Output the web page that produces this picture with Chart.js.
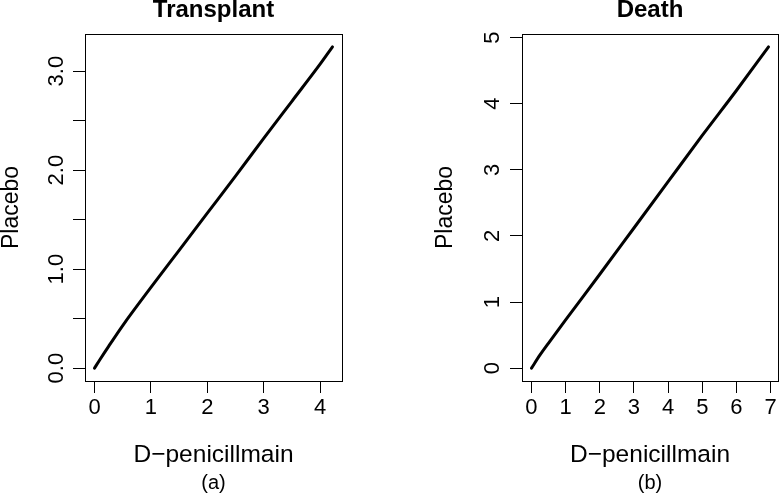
<!DOCTYPE html>
<html>
<head>
<meta charset="utf-8">
<script src="https://cdn.jsdelivr.net/npm/chart.js@4.4.0/dist/chart.umd.min.js"></script>
<style>
body { margin: 0; background: #fff; }
#wrap { position: relative; width: 779px; height: 493px; }
canvas { position: absolute; top: 0; }
#cvA { left: 0; }
#cvB { left: 389px; }
</style>
</head>
<body>
<div id="wrap">
	<canvas id="cvA" width="389" height="493"></canvas>
	<canvas id="cvB" width="390" height="493"></canvas>
</div>
<script>
// (a) Transplant: D-penicillmain vs Placebo
const transX = [0, 0.1, 0.25, 0.5, 1, 1.5, 2, 2.5, 3, 3.5, 4, 4.22];
const transY = [0, 0.09, 0.22, 0.43, 0.815, 1.19, 1.565, 1.94, 2.32, 2.695, 3.07, 3.245];
const transXTicks = [0, 1, 2, 3, 4];
const transYTicks = [0, 0.5, 1, 1.5, 2, 2.5, 3];
const transYLabels = ['0.0', '', '1.0', '', '2.0', '', '3.0'];

// (b) Death
const deathX = [0, 0.25, 0.5, 1, 2, 3, 4, 5, 6, 6.94];
const deathY = [0, 0.2, 0.38, 0.73, 1.42, 2.12, 2.82, 3.52, 4.2, 4.86];
const deathXTicks = [0, 1, 2, 3, 4, 5, 6, 7];
const deathYTicks = [0, 1, 2, 3, 4, 5];
const deathYLabels = ['0', '1', '2', '3', '4', '5'];

Chart.defaults.font.family = "'Liberation Sans', Arial, Helvetica, sans-serif";
Chart.defaults.color = '#000';

// 外框 (R 的 box())
const boxPlugin = {
	id: 'box',
	afterDraw(chart) {
		const a = chart.chartArea;
		const c = chart.ctx;
		c.save();
		c.strokeStyle = '#000';
		c.lineWidth = 1;
		c.strokeRect(Math.round(a.left) + 0.5, Math.round(a.top) + 0.5,
			Math.round(a.right - a.left), Math.round(a.bottom - a.top));
		c.restore();
	}
};

// R 預設的 4% 軸範圍延伸
function rRange(arr) {
	const lo = Math.min(...arr), hi = Math.max(...arr);
	const d = (hi - lo) * 0.04;
	return [lo - d, hi + d];
}

function buildPanel(id, xs, ys, xTicks, yTicks, yLabels, title, sub, padLeft, padRight, yWidth, yTickPad) {
	const xr = rRange(xs);
	const yr = rRange(ys);
	const pts = xs.map((x, i) => ({ x: x, y: ys[i] }));
	return new Chart(document.getElementById(id), {
		type: 'scatter',
		data: {
			datasets: [{
				data: pts,
				showLine: true,
				borderColor: '#000',
				borderWidth: 3,
				borderCapStyle: 'round',
				pointRadius: 0,
				cubicInterpolationMode: 'monotone'
			}]
		},
		options: {
			responsive: false,
			animation: false,
			layout: {
				autoPadding: false,
				padding: { left: padLeft, right: padRight, top: 0, bottom: 0 }
			},
			plugins: {
				legend: { display: false },
				tooltip: { enabled: false },
				title: {
					display: true,
					text: title,
					fullSize: false,
					color: '#000',
					font: { size: 24, weight: 'bold', lineHeight: 1 },
					padding: { top: -2, bottom: 12 }
				},
				subtitle: {
					display: true,
					text: sub,
					position: 'bottom',
					fullSize: false,
					color: '#000',
					font: { size: 20, lineHeight: 1 },
					padding: 0
				}
			},
			scales: {
				x: {
					type: 'linear',
					min: xr[0],
					max: xr[1],
					afterBuildTicks: s => { s.ticks = xTicks.map(v => ({ value: v })); },
					afterFit: s => { s.height = 92; },
					grid: { drawOnChartArea: false, tickLength: 12, color: '#000' },
					border: { color: '#000' },
					ticks: {
						color: '#000',
						font: { size: 22 },
						padding: 2.2,
						maxRotation: 0,
						autoSkip: false,
						callback: v => String(v)
					},
					title: {
						display: true,
						text: 'D\u2212penicillmain',
						color: '#000',
						font: { size: 24.5, lineHeight: 1 },
						padding: { top: 0, bottom: 5.4 }
					}
				},
				y: {
					type: 'linear',
					min: yr[0],
					max: yr[1],
					afterBuildTicks: s => { s.ticks = yTicks.map(v => ({ value: v })); },
					afterFit: s => { s.width = yWidth; },
					grid: { drawOnChartArea: false, tickLength: 12, color: '#000' },
					border: { color: '#000' },
					ticks: {
						color: '#000',
						font: { size: 22 },
						minRotation: 90,
						maxRotation: 90,
						crossAlign: 'center',
						padding: yTickPad,
						autoSkip: false,
						callback: (v, i) => yLabels[i]
					},
					title: {
						display: true,
						text: 'Placebo',
						color: '#000',
						font: { size: 23, lineHeight: 1 },
						padding: { top: 0.5, bottom: 0 }
					}
				}
			}
		},
		plugins: [boxPlugin]
	});
}

buildPanel('cvA', transX, transY, transXTicks, transYTicks, transYLabels, 'Transplant', '(a)', 0, 47, 85, 1);
buildPanel('cvB', deathX, deathY, deathXTicks, deathYTicks, deathYLabels, 'Death', '(b)', 45, 1, 88, 10.9);
</script>
</body>
</html>
